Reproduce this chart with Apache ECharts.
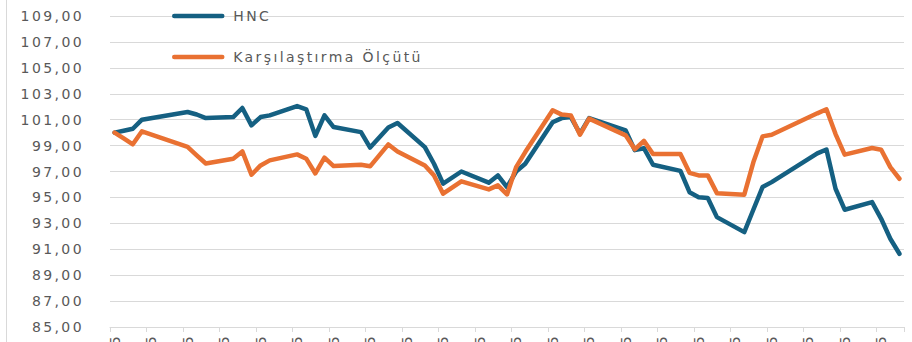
<!DOCTYPE html>
<html>
<head>
<meta charset="utf-8">
<script src="https://cdn.jsdelivr.net/npm/echarts@6/dist/echarts.min.js"></script>
<style>
  html, body { margin: 0; padding: 0; background: #ffffff; }
  #chart { width: 912px; height: 342px; }
  #chart text { letter-spacing: 2.4px; }
</style>
</head>
<body>
<div id="chart"></div>
<script>
// Trading days (dd.mm.yyyy) and indexed values, start = 100
const tradeDates = [
  '25.03.2025','26.03.2025','27.03.2025','28.03.2025',
  '02.04.2025','03.04.2025','04.04.2025','07.04.2025','08.04.2025','09.04.2025','10.04.2025','11.04.2025',
  '14.04.2025','15.04.2025','16.04.2025','17.04.2025','18.04.2025','21.04.2025','22.04.2025','24.04.2025',
  '25.04.2025','28.04.2025','29.04.2025','30.04.2025',
  '02.05.2025','05.05.2025','06.05.2025','07.05.2025','08.05.2025','09.05.2025','12.05.2025','13.05.2025',
  '14.05.2025','15.05.2025','16.05.2025','20.05.2025','21.05.2025','22.05.2025','23.05.2025','26.05.2025',
  '27.05.2025','28.05.2025','29.05.2025','30.05.2025',
  '02.06.2025','03.06.2025','04.06.2025','05.06.2025','10.06.2025','11.06.2025','12.06.2025','13.06.2025',
  '16.06.2025','17.06.2025','18.06.2025','19.06.2025'
];

const hncValues = [
  100.00, 100.15, 100.30, 101.00,
  101.59, 101.40, 101.12, 101.20, 101.90, 100.56, 101.20, 101.33,
  102.05, 101.80, 99.75, 101.33, 100.43, 100.04, 98.85, 100.40,
  100.74, 98.88, 97.60, 96.06,
  97.00, 96.14, 96.70, 95.80, 97.00, 97.60, 100.80, 101.12,
  101.20, 99.92, 101.12, 100.17, 98.65, 98.80, 97.52, 97.05,
  95.40, 95.02, 94.95, 93.48,
  92.32, 94.07, 95.80, 96.18, 98.40, 98.70, 95.67, 94.05,
  94.64, 93.35, 91.81, 90.65
];

const benchmarkValues = [
  100.00, 99.55, 99.10, 100.10,
  98.90, 98.25, 97.62, 97.99, 98.55, 96.75, 97.47, 97.86,
  98.32, 97.99, 96.85, 98.07, 97.42, 97.52, 97.40, 99.09,
  98.55, 97.47, 96.70, 95.29,
  96.24, 95.62, 95.93, 95.23, 97.34, 98.50, 101.72, 101.39,
  101.33, 99.84, 101.08, 99.79, 98.71, 99.37, 98.35, 98.35,
  96.90, 96.70, 96.70, 95.33,
  95.21, 97.73, 99.71, 99.84, 101.49, 101.80, 99.89, 98.30,
  98.81, 98.68, 97.34, 96.44
];

const seriesNames = ['HNC', 'Karşılaştırma Ölçütü'];
const yMin = 85, yMax = 109, yStep = 2;

// Calendar-day category axis: non-trading days stay empty and the line bridges them
function parseDate(s) {
  const [d, m, y] = s.split('.').map(Number);
  return Date.UTC(y, m - 1, d);
}
function formatDate(t) {
  const dt = new Date(t);
  const dd = String(dt.getUTCDate()).padStart(2, '0');
  const mm = String(dt.getUTCMonth() + 1).padStart(2, '0');
  return dd + '.' + mm + '.' + dt.getUTCFullYear();
}
const calendarDays = [];
for (let t = parseDate(tradeDates[0]); t <= parseDate(tradeDates[tradeDates.length - 1]); t += 86400000) {
  calendarDays.push(formatDate(t));
}
const dateIndex = new Map(tradeDates.map((d, i) => [d, i]));
const onCalendar = values => calendarDays.map(d => dateIndex.has(d) ? values[dateIndex.get(d)] : null);

const FONT = 'DejaVu Sans';
const TEXT_COLOR = '#595959';
const GRID_COLOR = '#d9d9d9';

const chart = echarts.init(document.getElementById('chart'), null, { renderer: 'svg' });
chart.setOption({
  animation: false,
  backgroundColor: '#ffffff',
  graphic: [{
    type: 'line',
    shape: { x1: 6.5, y1: 0, x2: 6.5, y2: 342 },
    style: { stroke: GRID_COLOR, lineWidth: 1 }
  }],
  grid: {
    left: 110, right: 8, top: 16, height: 311,
    containLabel: false,
    outerBoundsMode: 'none'
  },
  legend: {
    orient: 'vertical',
    left: 172,
    top: 9,
    padding: 0,
    itemWidth: 48,
    itemHeight: 14,
    itemGap: 27,
    data: seriesNames,
    itemStyle: { opacity: 0 },
    lineStyle: { width: 4.5, cap: 'round' },
    textStyle: {
      fontFamily: FONT, fontSize: 14, color: TEXT_COLOR,
      lineHeight: 14, padding: [0, 0, 0, 6]
    }
  },
  xAxis: {
    type: 'category',
    data: calendarDays,
    boundaryGap: true,
    axisLine: { show: true, lineStyle: { color: GRID_COLOR, width: 1 } },
    axisTick: { show: true, interval: 3, alignWithLabel: false, length: 5, lineStyle: { color: GRID_COLOR } },
    axisLabel: {
      interval: 3, rotate: 90, margin: 7,
      fontFamily: FONT, fontSize: 14, color: TEXT_COLOR
    },
    splitLine: { show: false }
  },
  yAxis: {
    type: 'value',
    min: yMin, max: yMax, interval: yStep,
    axisLine: { show: false },
    axisTick: { show: false },
    axisLabel: {
      margin: 26,
      fontFamily: FONT, fontSize: 14, color: TEXT_COLOR,
      formatter: v => v.toFixed(2).replace('.', ',')
    },
    splitLine: { lineStyle: { color: GRID_COLOR, width: 1 } }
  },
  series: [
    {
      name: seriesNames[0],
      type: 'line',
      data: onCalendar(hncValues),
      connectNulls: true,
      symbol: 'none',
      color: '#156082',
      lineStyle: { width: 4.5, cap: 'round', join: 'round' }
    },
    {
      name: seriesNames[1],
      type: 'line',
      data: onCalendar(benchmarkValues),
      connectNulls: true,
      symbol: 'none',
      color: '#E97132',
      lineStyle: { width: 4.5, cap: 'round', join: 'round' }
    }
  ]
});
</script>
</body>
</html>
